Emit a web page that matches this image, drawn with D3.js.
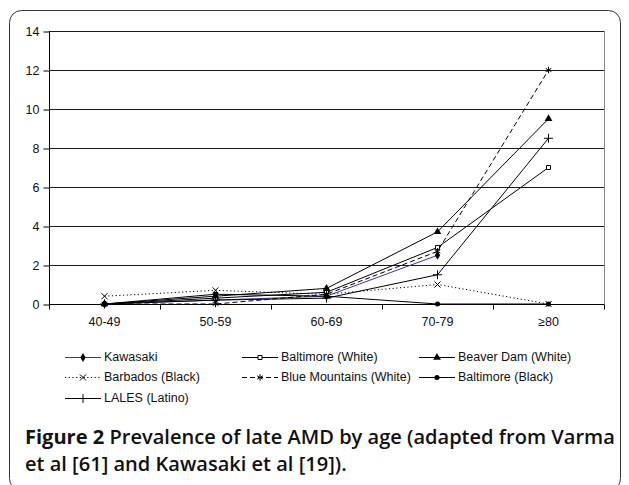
<!DOCTYPE html>
<html>
<head>
<meta charset="utf-8">
<script src="https://cdn.jsdelivr.net/npm/d3@7"></script>
<style>
  html, body { margin: 0; padding: 0; background: #fff; }
  svg { display: block; }
</style>
</head>
<body>
<svg id="chart" width="629" height="485"></svg>
<script>
const categories = ["40-49", "50-59", "60-69", "70-79", "≥80"];
const yTickValues = [0, 2, 4, 6, 8, 10, 12, 14];

const seriesNames = ["Kawasaki", "Baltimore (White)", "Beaver Dam (White)", "Barbados (Black)", "Blue Mountains (White)", "Baltimore (Black)", "LALES (Latino)"];
const kawasaki       = [0, 0.2, 0.4, 2.5, null];
const baltimoreWhite = [0, 0.3, 0.6, 2.9, 7.0];
const beaverDam      = [0, 0.4, 0.8, 3.7, 9.5];
const barbados       = [0.4, 0.7, 0.5, 1.0, 0.0];
const blueMountains  = [0, 0, 0.5, 2.7, 12.0];
const baltimoreBlack = [0, 0.5, 0.4, 0, 0];
const lales          = [0, 0.2, 0.3, 1.5, 8.5];

const captionBold = "Figure 2";
const captionLine1 = " Prevalence of late AMD by age (adapted from Varma";
const captionLine2 = "et al [61] and Kawasaki et al [19]).";

(function () {
const seriesValues = [kawasaki, baltimoreWhite, beaverDam, barbados, blueMountains, baltimoreBlack, lales];
const styles = [
  { color: "#3434b4", dash: null, sym: d3.symbolDiamond, size: 24, fill: "#000", stroke: null },
  { color: "#000", dash: null, sym: d3.symbolSquare, size: 16, fill: "#fff", stroke: "#000" },
  { color: "#000", dash: null, sym: d3.symbolTriangle, size: 26, fill: "#000", stroke: null },
  { color: "#000", dash: "1.2,2.5", sym: d3.symbolX, size: 26, fill: "none", stroke: "#000" },
  { color: "#000", dash: "5,3", sym: d3.symbolAsterisk, size: 30, fill: "none", stroke: "#000" },
  { color: "#000", dash: null, sym: d3.symbolCircle, size: 20, fill: "#000", stroke: null },
  { color: "#000", dash: null, sym: d3.symbolPlus, size: 28, fill: "none", stroke: "#000" }
];

const svg = d3.select("#chart");
const font = "'Liberation Sans', Arial, sans-serif";

// outer rounded frame
svg.append("rect")
  .attr("x", 9.5).attr("y", 10.5).attr("width", 611).attr("height", 480)
  .attr("rx", 12).attr("ry", 12)
  .attr("fill", "none").attr("stroke", "#333").attr("stroke-width", 1);

const pLeft = 49, pRight = 604, pTop = 31, pBottom = 304;
const x = d3.scaleBand().domain(categories).range([pLeft, pRight]);
const y = d3.scaleLinear().domain([0, 14]).range([pBottom, pTop]);
const cx = i => x(categories[i]) + x.bandwidth() / 2;

// gridlines
svg.append("g").selectAll("line").data(yTickValues.filter(v => v > 0)).join("line")
  .attr("x1", pLeft).attr("x2", pRight)
  .attr("y1", d => Math.round(y(d)) + 0.5).attr("y2", d => Math.round(y(d)) + 0.5)
  .attr("stroke", "#1a1a1a").attr("stroke-width", 1);

// right border
svg.append("line")
  .attr("x1", pRight + 0.5).attr("x2", pRight + 0.5)
  .attr("y1", pTop).attr("y2", pBottom)
  .attr("stroke", "#888");

// y axis
const yAxis = svg.append("g")
  .attr("transform", `translate(${pLeft + 0.5},0.5)`)
  .call(d3.axisLeft(y).tickValues(yTickValues).tickSize(6).tickPadding(4).tickFormat(d3.format("d")));
yAxis.select(".domain").attr("stroke", "#000").attr("d", `M0,${pTop}V${pBottom + 0.5}`);
yAxis.selectAll("line").attr("stroke", "#000");
yAxis.selectAll("text").attr("font-family", font).attr("font-size", 12.5).attr("fill", "#111");

// x axis
const xAxis = svg.append("g")
  .attr("transform", `translate(0,${pBottom + 0.5})`)
  .call(d3.axisBottom(x).tickSize(0).tickPadding(13));
xAxis.select(".domain").attr("stroke", "#000").attr("d", `M${pLeft},0H${pRight + 0.5}`);
xAxis.selectAll("text").attr("font-family", font).attr("font-size", 12.5).attr("fill", "#111");
const boundaries = categories.map(c => x(c)).concat([x.range()[1]]);
xAxis.selectAll(".bound").data(boundaries).join("line").attr("class", "bound")
  .attr("x1", d => Math.round(d) + 0.5).attr("x2", d => Math.round(d) + 0.5)
  .attr("y1", 0).attr("y2", 5).attr("stroke", "#000");

// series lines
const line = d3.line()
  .defined(d => d.v != null)
  .x(d => cx(d.i))
  .y(d => y(d.v));

const gSeries = svg.append("g");
seriesValues.forEach((vals, k) => {
  const st = styles[k];
  const pts = vals.map((v, i) => ({ v, i }));
  gSeries.append("path")
    .datum(pts)
    .attr("d", line)
    .attr("fill", "none")
    .attr("stroke", st.color)
    .attr("stroke-width", 1)
    .attr("stroke-dasharray", st.dash);
});
seriesValues.forEach((vals, k) => {
  const st = styles[k];
  const pts = vals.map((v, i) => ({ v, i })).filter(d => d.v != null);
  gSeries.append("g").selectAll("path").data(pts).join("path")
    .attr("transform", d => `translate(${cx(d.i)},${y(d.v)})`)
    .attr("d", d3.symbol().type(st.sym).size(st.size))
    .attr("fill", st.fill)
    .attr("stroke", st.stroke)
    .attr("stroke-width", st.stroke ? 1 : null);
});

// legend
const legCols = [65, 242, 419];
const legRows = [357, 377, 398];
const leg = svg.append("g");
seriesNames.forEach((name, k) => {
  const st = styles[k];
  const col = k % 3, row = Math.floor(k / 3);
  const lx = legCols[col], ly = legRows[row];
  const g = leg.append("g").attr("transform", `translate(${lx},${ly})`);
  g.append("line").attr("x1", 0).attr("x2", 36).attr("y1", 0.5).attr("y2", 0.5)
    .attr("stroke", st.color).attr("stroke-width", 1).attr("stroke-dasharray", st.dash);
  g.append("path").attr("transform", "translate(18,0.5)")
    .attr("d", d3.symbol().type(st.sym).size(st.size))
    .attr("fill", st.fill).attr("stroke", st.stroke).attr("stroke-width", st.stroke ? 1 : null);
  g.append("text").attr("x", 39).attr("y", 0).attr("dy", "0.35em")
    .attr("font-family", font).attr("font-size", 12.5).attr("fill", "#111")
    .text(name);
});

// caption
const capFont = "'Open Sans', 'Noto Sans', sans-serif";
const cap1 = svg.append("text").attr("x", 25).attr("y", 444)
  .attr("font-family", capFont).attr("font-size", 16).attr("fill", "#111");
cap1.append("tspan").attr("font-weight", 700).text(captionBold);
cap1.append("tspan").attr("font-weight", 600).text(captionLine1);
const w = cap1.node().getComputedTextLength();
const fs = 16 * 590 / w;
cap1.attr("font-size", fs);
svg.append("text").attr("x", 25).attr("y", 471)
  .attr("font-family", capFont).attr("font-size", fs).attr("font-weight", 600).attr("fill", "#111")
  .text(captionLine2);
})();
</script>
</body>
</html>
